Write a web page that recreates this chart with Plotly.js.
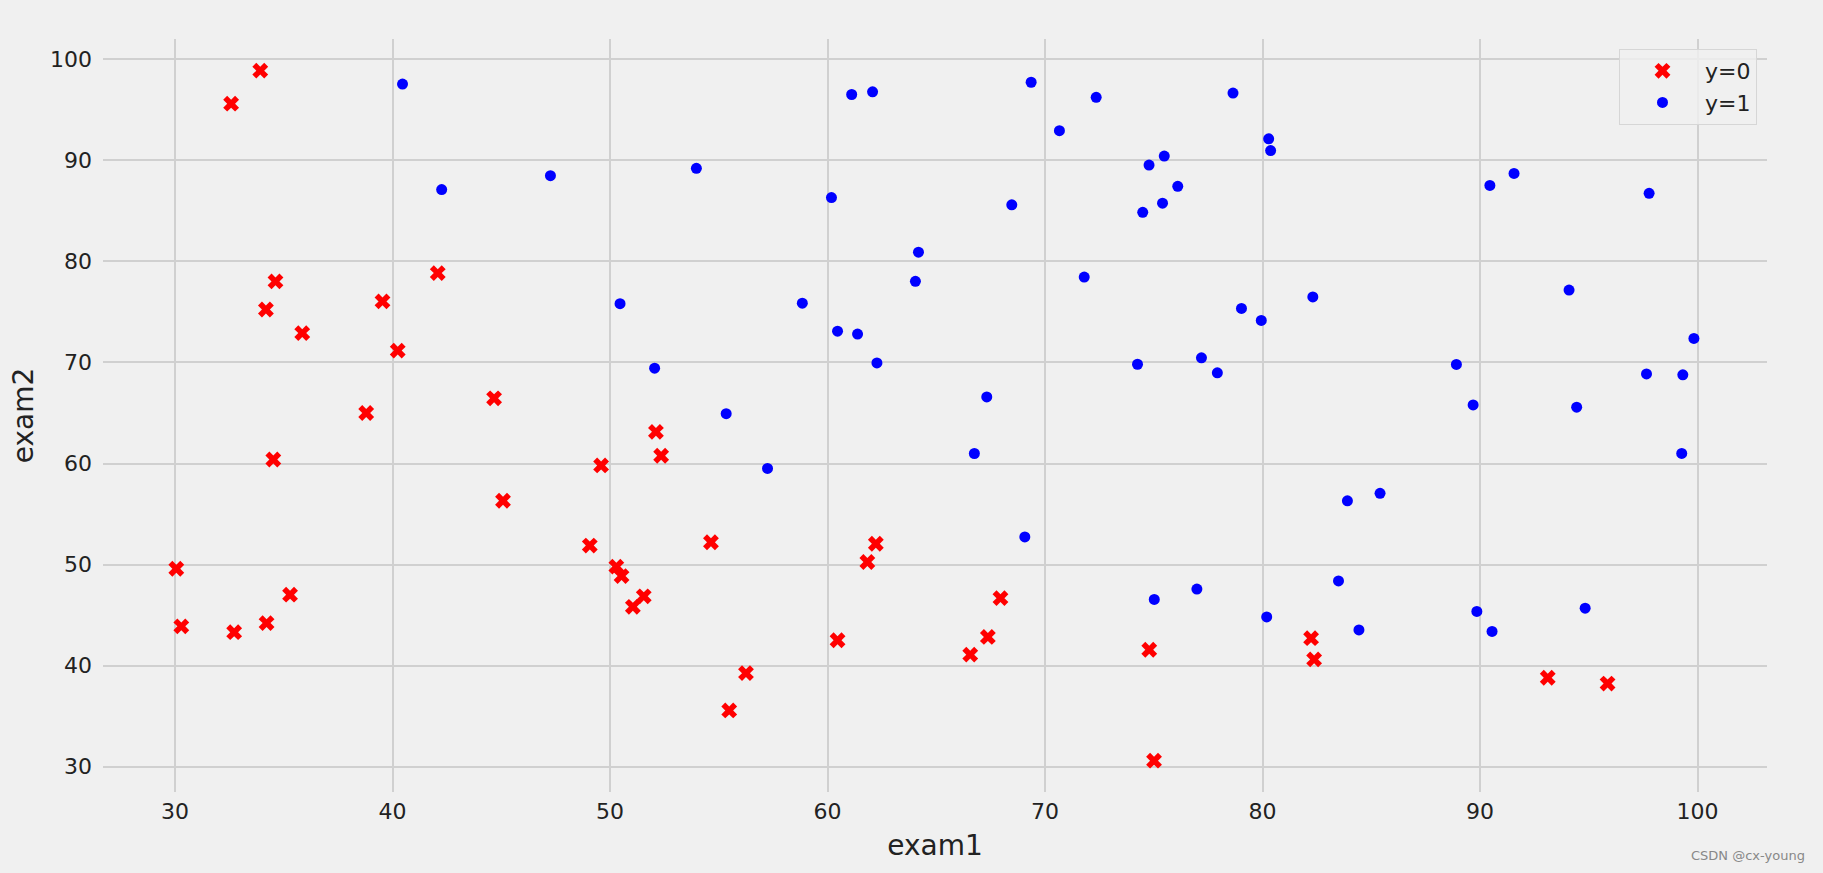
<!DOCTYPE html>
<html>
<head>
<meta charset="utf-8">
<script src="https://cdn.plot.ly/plotly-3.0.1.min.js"></script>
<style>
html,body{margin:0;padding:0;background:#f0f0f0;}
#chart{width:1823px;height:873px;}
</style>
</head>
<body>
<div id="chart"></div>
<script>
// exam1, exam2 scores and admission label (0 = not admitted, 1 = admitted)
const exam1 = [34.62,30.29,35.85,60.18,79.03,45.08,61.11,75.02,76.10,84.43,95.86,75.01,82.31,69.36,39.54,53.97,69.07,67.95,70.66,76.98,67.37,89.68,50.53,34.21,77.92,62.27,80.19,93.11,61.83,38.79,61.38,85.40,52.11,52.05,40.24,54.64,33.92,64.18,74.79,34.18,83.90,51.55,94.44,82.37,51.05,62.22,77.19,97.77,62.07,91.56,79.94,99.27,90.55,34.52,50.29,49.59,97.65,32.58,74.25,71.80,75.40,35.29,56.25,30.06,44.67,66.56,40.46,49.07,80.28,66.75,32.72,64.04,72.35,60.46,58.84,99.83,47.26,50.46,60.46,82.23,88.91,94.83,67.32,57.24,80.37,68.47,42.08,75.48,78.64,52.35,94.09,90.45,55.48,74.49,89.85,83.49,42.26,99.32,55.34,74.78];
const exam2 = [78.02,43.89,72.90,86.31,75.34,56.32,96.51,46.55,87.42,43.53,38.23,30.60,76.48,97.72,76.04,89.21,52.74,46.68,92.93,47.58,42.84,65.80,48.86,44.21,68.97,69.95,44.82,38.80,50.26,65.00,72.81,57.05,63.13,69.43,71.17,52.21,98.87,80.91,41.57,75.24,56.31,46.86,65.57,40.62,45.82,52.06,70.46,86.73,96.77,88.70,74.16,61.00,43.39,60.40,49.80,59.81,68.86,95.60,69.82,78.45,85.76,47.02,39.26,49.59,66.45,41.09,97.54,51.88,92.12,60.99,43.31,78.03,96.23,73.09,75.86,72.37,88.48,75.81,42.51,42.72,69.80,45.69,66.59,59.51,90.96,85.59,78.84,90.42,96.65,60.77,77.16,87.51,35.57,84.85,45.36,48.38,87.10,68.78,64.93,89.53];
const admitted = [0,0,0,1,1,0,1,1,1,1,0,0,1,1,0,1,1,0,1,1,0,1,0,0,1,1,1,0,0,0,1,1,0,1,0,0,0,1,0,0,1,0,1,0,0,0,1,1,1,1,1,1,1,0,0,0,1,0,1,1,1,0,0,0,0,0,1,0,1,1,0,1,1,1,1,1,1,1,0,0,1,1,1,1,1,1,0,1,1,0,1,1,0,1,1,1,1,1,1,1];
const xTicks = [30,40,50,60,70,80,90,100];
const yTicks = [30,40,50,60,70,80,90,100];
const seriesNames = ['y=0','y=1'];

function pick(arr, label){ return arr.filter((v,i)=>admitted[i]===label); }

const traces = [
  {x: pick(exam1,0), y: pick(exam2,0), mode:'markers', type:'scatter', name: seriesNames[0],
   marker:{symbol:'x', color:'#ff0000', size:14, line:{width:0}}},
  {x: pick(exam1,1), y: pick(exam2,1), mode:'markers', type:'scatter', name: seriesNames[1],
   marker:{symbol:'circle', color:'#0000ff', size:11, line:{width:0}}}
];

const FF = 'DejaVu Sans, sans-serif';
const layout = {
  width:1823, height:873,
  paper_bgcolor:'#f0f0f0', plot_bgcolor:'#f0f0f0',
  margin:{l:103, r:56, t:39, b:81},
  font:{family:FF, color:'#222222'},
  showlegend:true,
  xaxis:{range:[26.69,103.19], tickvals:xTicks, ticktext:xTicks.map(String),
    showgrid:true, gridcolor:'#d0d0d0', gridwidth:2, zeroline:false, showline:false,
    ticks:'', ticklabelstandoff:4, tickfont:{size:22, color:'#222222', family:FF},
    title:{text:'exam1', font:{size:28, color:'#222222', family:FF}, standoff:12}},
  yaxis:{range:[27.5,102.0], tickvals:yTicks, ticktext:yTicks.map(String),
    showgrid:true, gridcolor:'#d0d0d0', gridwidth:2, zeroline:false, showline:false,
    ticks:'', ticklen:0, ticklabelstandoff:10, tickfont:{size:22, color:'#222222', family:FF},
    title:{text:'exam2', font:{size:28, color:'#222222', family:FF}, standoff:8}},
  legend:{x:1-10/1664, y:1-10/753, xanchor:'right', yanchor:'top',
    bgcolor:'rgba(240,240,240,0.8)', bordercolor:'#d6d6d6', borderwidth:1,
    font:{size:22, color:'#222222', family:FF}, itemsizing:'trace', itemwidth:75},
  annotations:[{text:'CSDN @cx-young', xref:'paper', yref:'paper', x:(1807-103)/1664, y:-(855-792)/753,
    xanchor:'right', yanchor:'middle', showarrow:false,
    font:{size:13, color:'#888888', family:FF}}]
};

Plotly.newPlot('chart', traces, layout, {displayModeBar:false, staticPlot:true});
</script>
</body>
</html>
